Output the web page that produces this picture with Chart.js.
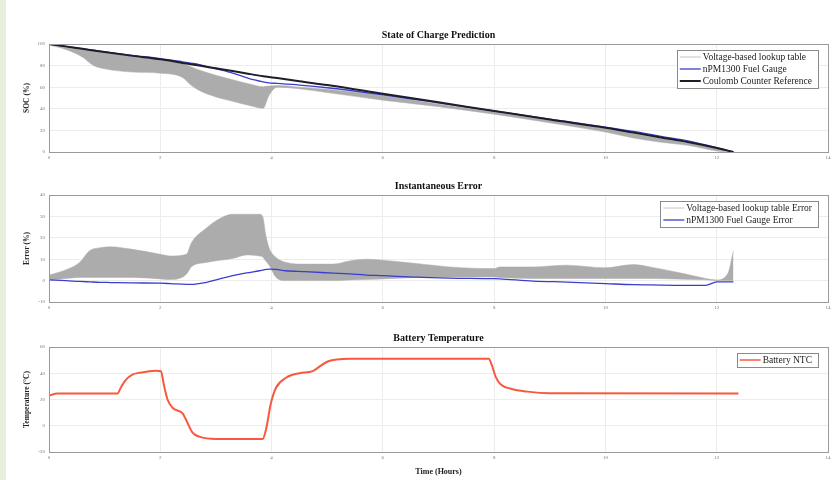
<!DOCTYPE html>
<html><head><meta charset="utf-8">
<script src="https://cdn.jsdelivr.net/npm/chart.js@4.4.1/dist/chart.umd.min.js"></script>
<style>
html,body{margin:0;padding:0;background:#fff;width:834px;height:480px;overflow:hidden}
#strip{position:absolute;left:0;top:0;width:6px;height:480px;background:#e6f0dc}
.c{position:absolute;left:6px;width:828px}
</style></head><body>
<div id="strip"></div>
<div class="c" style="top:23px;height:141px"><canvas id="c1"></canvas></div>
<div class="c" style="top:174px;height:140px"><canvas id="c2"></canvas></div>
<div class="c" style="top:326px;height:151px"><canvas id="c3"></canvas></div>
<script>
// ---------- data ----------
const xTicks = [0, 2, 4, 6, 8, 10, 12, 14];
const socTicks = [0, 20, 40, 60, 80, 100];
const errTicks = [-10, 0, 10, 20, 30, 40];
const tempTicks = [-20, 0, 20, 40, 60];

const socTime      = [0, 0.3, 0.6, 0.8, 1.0, 1.5, 2.0, 2.4, 2.55, 2.7, 3.0, 3.3, 3.6, 3.85, 3.95, 4.1, 4.5, 5, 6, 7, 8, 9, 10, 10.5, 11, 11.5, 12, 12.3];
const coulombSOC   = [100, 97.8, 95.5, 94, 92.5, 89, 85.8, 82.5, 81.2, 80, 77.5, 75, 72.3, 70.2, 69.5, 68.5, 65.5, 62, 54, 46, 38, 30, 22.5, 18, 13.5, 9, 3.7, 0];
const fuelGaugeSOC = [100, 97.8, 95.5, 94.2, 92.8, 89.5, 86.5, 83.5, 82.3, 81, 77, 73, 68, 65, 64, 63.5, 62, 59.5, 53, 45.5, 38, 30.5, 23, 19, 14.5, 10, 4, 0];
const lookupSOCHigh= [100, 97.5, 95, 93.5, 92, 88.5, 85, 82, 79, 76, 71, 67, 63, 60.5, 61, 61.5, 60, 58, 52, 44.5, 37, 29.5, 21.5, 17, 12.5, 8, 3, 0];
const lookupSOCLow = [99, 95, 88, 80, 77, 74, 73, 69, 62, 57, 51, 47, 43, 40.5, 52, 60, 58.5, 55, 48, 42, 35, 27, 18.5, 13, 9, 6, 1, 0];

const errTime      = [0, 0.3, 0.55, 0.73, 0.92, 1.1, 1.5, 2.0, 2.18, 2.47, 2.56, 2.83, 3.07, 3.3, 3.55, 3.78, 3.84, 3.9, 3.96, 4.08, 4.26, 4.6, 5.1, 5.4, 5.7, 6.0, 6.6, 7.2, 8.0, 8.1, 8.7, 9.3, 10.0, 10.5, 10.8, 11.4, 11.8, 12.0, 12.2, 12.3];
const lookupErrHigh= [2.6, 5, 8.5, 14, 15.4, 15.8, 14.6, 12.3, 11.5, 12.3, 17.7, 24.6, 29, 31, 31, 31, 30, 20.8, 15, 10.8, 8.5, 7.7, 7.7, 9.2, 10, 9.5, 8, 6.4, 5.6, 6.4, 6.4, 7.2, 6, 7.5, 6.4, 3.3, 1, 0.3, 3.3, 14];
const lookupErrLow = [0.3, 1, 1.5, 1.5, 1.5, 1.5, 1.5, 0.8, 0.5, 3, 6.5, 8.5, 9.5, 10.3, 12, 11.5, 11, 9, 7, 1.5, 0, 0, 0, 0.3, 0.5, 0.8, 1.5, 1.7, 1.7, 1.5, 1, 1, 1, 1, 1, 0.6, 0.4, 0, 0, 0];
const fuelGaugeErr = [0.3, 0, -0.4, -0.6, -0.8, -0.9, -1.1, -1.2, -1.4, -1.8, -1.8, -0.8, 0.8, 2.3, 3.6, 4.6, 4.9, 5.2, 5.4, 5.2, 4.6, 4.2, 3.5, 3.1, 2.6, 2.3, 1.6, 1.2, 0.9, 0.8, -0.2, -0.7, -1.4, -1.9, -2, -2.2, -2.2, -0.6, -0.6, -0.6];

const tempTime     = [0, 0.15, 1.23, 1.29, 1.38, 1.5, 1.62, 1.92, 2.01, 2.07, 2.13, 2.22, 2.4, 2.46, 2.58, 2.7, 3.0, 3.84, 3.9, 3.99, 4.08, 4.26, 4.5, 4.74, 4.86, 5.01, 5.4, 6.6, 7.9, 7.96, 8.03, 8.12, 8.3, 8.6, 9.0, 12.39];
const batteryNTC   = [23, 24.6, 24.6, 29, 35, 39, 40.3, 42, 41.5, 30, 20, 13.7, 9.4, 4.8, -5.3, -8.3, -10, -10, -2.8, 17.5, 29, 36.6, 40, 41.6, 45, 49, 51, 51, 51, 46, 37, 31.5, 28.2, 26, 24.8, 24.6];

const labelsSOC  = ['Voltage-based lookup table', 'nPM1300 Fuel Gauge', 'Coulomb Counter Reference'];
const labelsErr  = ['Voltage-based lookup table Error', 'nPM1300 Fuel Gauge Error'];
const labelsTemp = ['Battery NTC'];

// ---------- helpers ----------
const pts = (xs, ys) => xs.map((x, i) => ({x, y: ys[i]}));
const SERIF = "'Liberation Serif','DejaVu Serif',serif";
const GRAY = 'rgb(172,172,172)';
const BLUE = 'rgb(58,62,205)';
const BLACK = 'rgb(30,30,40)';
const RED = 'rgb(248,88,62)';

const framePlugin = {
  id: 'frameAndLegend',
  afterDraw(chart) {
    const ctx = chart.ctx, a = chart.chartArea;
    const o = chart.options.plugins.frameAndLegend;
    ctx.save();
    ctx.strokeStyle = '#9a9a9a'; ctx.lineWidth = 1;
    ctx.strokeRect(Math.round(a.left) + 0.5, Math.round(a.top) + 0.5, Math.round(a.right - a.left), Math.round(a.bottom - a.top));
    // title centred over plot area
    ctx.fillStyle = '#111';
    ctx.font = "bold 10px " + SERIF;
    ctx.textAlign = 'center'; ctx.textBaseline = 'middle';
    ctx.fillText(o.title, (a.left + a.right) / 2, a.top - 9);
    // legend box
    ctx.font = "9.5px " + SERIF;
    let tw = 0;
    o.items.forEach(it => { tw = Math.max(tw, ctx.measureText(it.text).width); });
    const w = tw + 32, h = o.items.length * 12 + 2;
    const right = a.right - 10, left = right - w, top = a.top + 6;
    ctx.fillStyle = '#fff';
    ctx.fillRect(left, top, w, h);
    ctx.strokeStyle = '#8a8a8a';
    ctx.strokeRect(Math.round(left) + 0.5, Math.round(top) + 0.5, Math.round(w), Math.round(h));
    o.items.forEach((it, i) => {
      const cy = top + 7 + i * 12;
      ctx.strokeStyle = it.color; ctx.lineWidth = it.width;
      ctx.beginPath(); ctx.moveTo(left + 3, cy); ctx.lineTo(left + 24, cy); ctx.stroke();
      ctx.fillStyle = '#222'; ctx.textAlign = 'left'; ctx.textBaseline = 'middle';
      ctx.fillText(it.text, left + 26, cy + 0.5);
    });
    ctx.restore();
  }
};

function makeScales(yMin, yMax, yTickVals, yTitle, xTitle) {
  const tickFont = {family: SERIF, size: 5};
  return {
    x: {
      type: 'linear', min: 0, max: 14,
      afterBuildTicks: s => { s.ticks = xTicks.map(v => ({value: v})); },
      ticks: {font: tickFont, color: '#777', padding: 3, autoSkip: false, maxRotation: 0},
      grid: {color: '#ececec', drawTicks: false},
      border: {display: false},
      title: xTitle ? {display: true, text: xTitle, font: {family: SERIF, size: 8, weight: 'bold'}, color: '#222', padding: {top: 3, bottom: 0}} : {display: false},
      afterFit: s => { s.height = xTitle ? 25 : 12; }
    },
    y: {
      type: 'linear', min: yMin, max: yMax,
      afterBuildTicks: s => { s.ticks = yTickVals.map(v => ({value: v})); },
      ticks: {font: tickFont, color: '#777', padding: 4, autoSkip: false},
      grid: {color: '#ececec', drawTicks: false},
      border: {display: false},
      title: {display: true, text: yTitle, font: {family: SERIF, size: 7.5, weight: 'bold'}, color: '#222', padding: {top: 17, bottom: 0}},
      afterFit: s => { s.width = 43; }
    }
  };
}

function baseOptions(scales, title, items) {
  return {
    responsive: true, maintainAspectRatio: false, animation: false,
    layout: {padding: {top: 21, right: 6, left: 0, bottom: 0}},
    elements: {point: {radius: 0}, line: {cubicInterpolationMode: 'monotone'}},
    plugins: {legend: {display: false}, tooltip: {enabled: false}, title: {display: false},
      frameAndLegend: {title, items}},
    scales
  };
}

// ---------- chart 1 ----------
new Chart(document.getElementById('c1'), {
  type: 'line',
  data: {datasets: [
    {label: labelsSOC[2], data: pts(socTime, coulombSOC), borderColor: BLACK, borderWidth: 2, fill: false},
    {label: labelsSOC[1], data: pts(socTime, fuelGaugeSOC), borderColor: BLUE, borderWidth: 1.3, fill: false},
    {label: labelsSOC[0] + ' upper', data: pts(socTime, lookupSOCHigh), borderColor: GRAY, borderWidth: 0.5, fill: false},
    {label: labelsSOC[0], data: pts(socTime, lookupSOCLow), borderColor: GRAY, borderWidth: 0.5, backgroundColor: GRAY, fill: '-1'}
  ]},
  options: baseOptions(makeScales(0, 100, socTicks, 'SOC (%)', null), 'State of Charge Prediction',
    [{text: labelsSOC[0], color: '#c4c4c4', width: 1}, {text: labelsSOC[1], color: BLUE, width: 1.3}, {text: labelsSOC[2], color: BLACK, width: 2}]),
  plugins: [framePlugin]
});

// ---------- chart 2 ----------
new Chart(document.getElementById('c2'), {
  type: 'line',
  data: {datasets: [
    {label: labelsErr[1], data: pts(errTime, fuelGaugeErr), borderColor: BLUE, borderWidth: 1.3, fill: false},
    {label: labelsErr[0] + ' upper', data: pts(errTime, lookupErrHigh), borderColor: GRAY, borderWidth: 0.5, fill: false},
    {label: labelsErr[0], data: pts(errTime, lookupErrLow), borderColor: GRAY, borderWidth: 0.5, backgroundColor: GRAY, fill: '-1'}
  ]},
  options: baseOptions(makeScales(-10, 40, errTicks, 'Error (%)', null), 'Instantaneous Error',
    [{text: labelsErr[0], color: '#c4c4c4', width: 1}, {text: labelsErr[1], color: BLUE, width: 1.3}]),
  plugins: [framePlugin]
});

// ---------- chart 3 ----------
new Chart(document.getElementById('c3'), {
  type: 'line',
  data: {datasets: [
    {label: labelsTemp[0], data: pts(tempTime, batteryNTC), borderColor: RED, borderWidth: 2, fill: false}
  ]},
  options: baseOptions(makeScales(-20, 60, tempTicks, 'Temperature (°C)', 'Time (Hours)'), 'Battery Temperature',
    [{text: labelsTemp[0], color: RED, width: 1.5}]),
  plugins: [framePlugin]
});
</script>
</body></html>
